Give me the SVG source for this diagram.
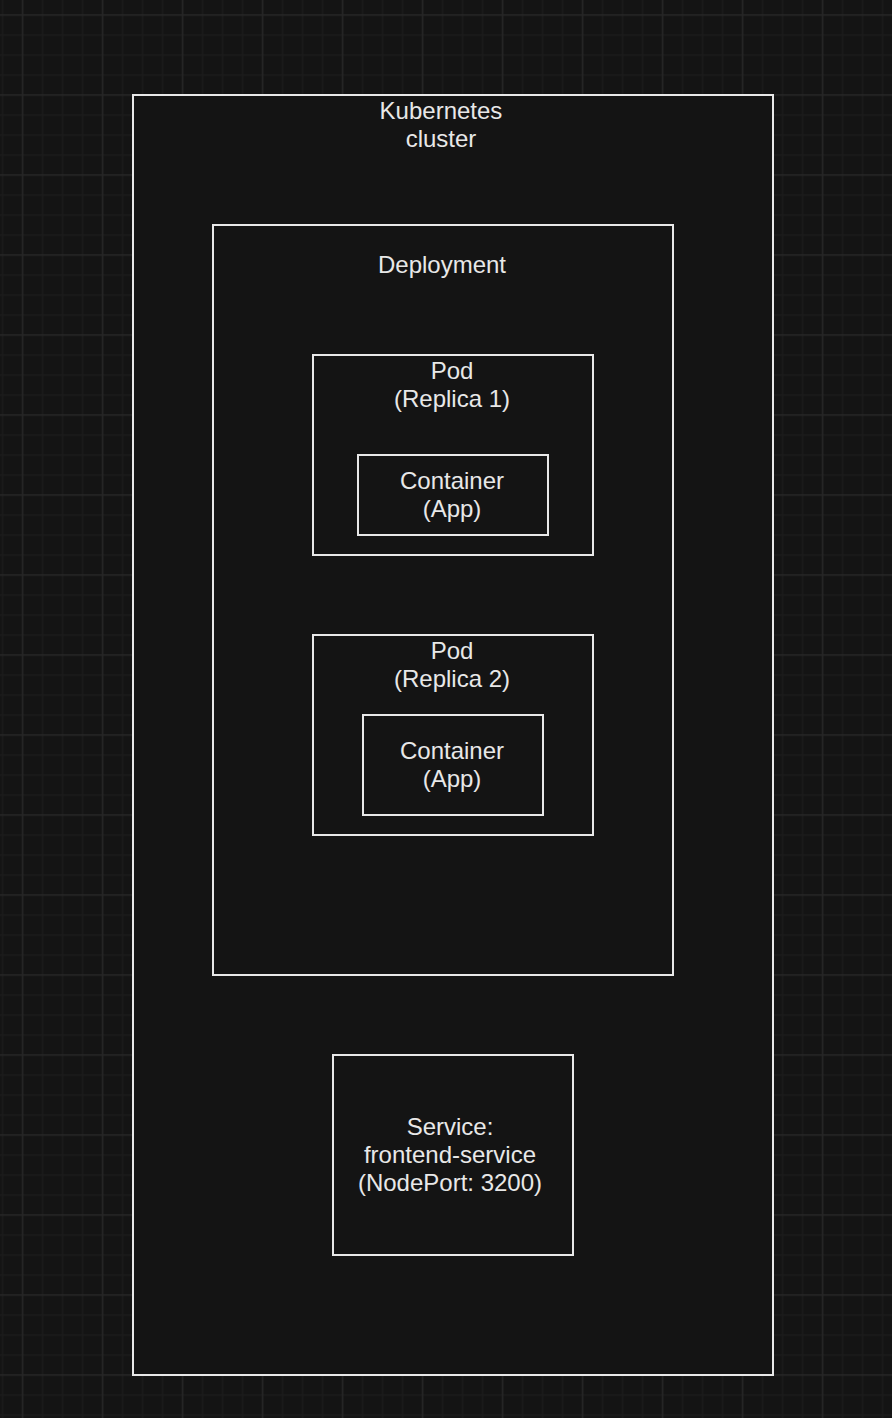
<svg xmlns="http://www.w3.org/2000/svg" width="892" height="1418" viewBox="0 0 892 1418">
<defs>
<pattern id="grid" patternUnits="userSpaceOnUse" x="21.75" y="14.25" width="80" height="80">
<rect width="80" height="80" fill="#141414"/>
<rect x="20" y="0" width="1.5" height="80" fill="#1b1b1b"/>
<rect x="40" y="0" width="1.5" height="80" fill="#1b1b1b"/>
<rect x="60" y="0" width="1.5" height="80" fill="#1b1b1b"/>
<rect x="0" y="20" width="80" height="1.5" fill="#1b1b1b"/>
<rect x="0" y="40" width="80" height="1.5" fill="#1b1b1b"/>
<rect x="0" y="60" width="80" height="1.5" fill="#1b1b1b"/>
<rect x="0" y="0" width="1.5" height="80" fill="#272727"/>
<rect x="0" y="0" width="80" height="1.5" fill="#272727"/>
</pattern>
</defs>
<style>
.box{fill:#141414;stroke:#e8e8e8;stroke-width:2}
.t{font-family:"Liberation Sans",Arial,Helvetica,sans-serif;font-size:24px;fill:#e8e8e8;text-anchor:middle}
</style>
<rect width="892" height="1418" fill="url(#grid)"/>
<g id="cluster">
<rect class="box" x="133" y="95" width="640" height="1280"/>
<text class="t" x="441" y="119">Kubernetes</text>
<text class="t" x="441" y="147">cluster</text>
</g>
<g id="deployment">
<rect class="box" x="213" y="225" width="460" height="750"/>
<text class="t" x="442" y="273">Deployment</text>
</g>
<g id="pod1">
<rect class="box" x="313" y="355" width="280" height="200"/>
<text class="t" x="452" y="379">Pod</text>
<text class="t" x="452" y="407">(Replica 1)</text>
</g>
<g id="container1">
<rect class="box" x="358" y="455" width="190" height="80"/>
<text class="t" x="452" y="489">Container</text>
<text class="t" x="452" y="517">(App)</text>
</g>
<g id="pod2">
<rect class="box" x="313" y="635" width="280" height="200"/>
<text class="t" x="452" y="659">Pod</text>
<text class="t" x="452" y="687">(Replica 2)</text>
</g>
<g id="container2">
<rect class="box" x="363" y="715" width="180" height="100"/>
<text class="t" x="452" y="759">Container</text>
<text class="t" x="452" y="787">(App)</text>
</g>
<g id="service">
<rect class="box" x="333" y="1055" width="240" height="200"/>
<text class="t" x="450" y="1135">Service:</text>
<text class="t" x="450" y="1163">frontend-service</text>
<text class="t" x="450" y="1191">(NodePort: 3200)</text>
</g>
<g id="connectors"></g>
</svg>
